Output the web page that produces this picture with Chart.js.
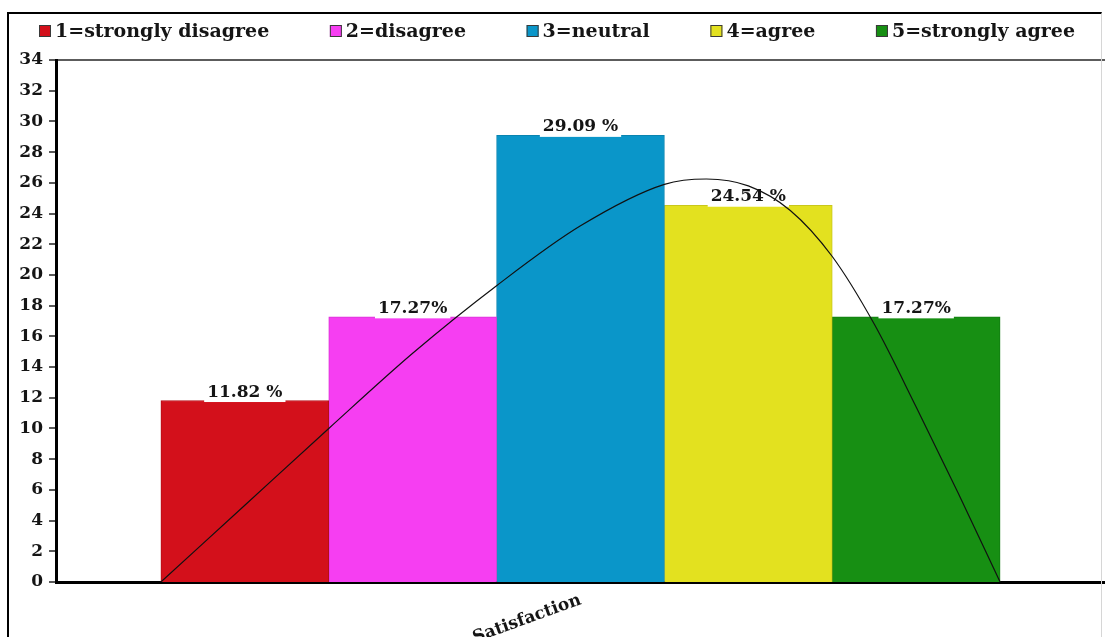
<!DOCTYPE html>
<html>
<head>
<meta charset="utf-8">
<title>Satisfaction</title>
<script src="https://cdn.jsdelivr.net/npm/chart.js@4.4.0/dist/chart.umd.min.js"></script>
<style>
  html, body { margin: 0; padding: 0; background: #fff; }
  #wrap { position: relative; width: 1105px; height: 637px; overflow: hidden; }
  #wrap canvas { position: absolute; left: 0; top: 0; }
  #frame {
    position: absolute; left: 7px; top: 12px; width: 1095px; height: 640px;
    border-left: 2px solid #000; border-top: 2px solid #000; border-right: 1px solid #d6d6d6;
    box-sizing: border-box; pointer-events: none;
  }
</style>
</head>
<body>
<div id="wrap">
  <canvas id="chart"></canvas>
  <div id="frame"></div>
</div>
<script>
// Category on the x axis
const categories = ['Satisfaction'];

// One bar per answer level
const seriesNames  = ['1=strongly disagree', '2=disagree', '3=neutral', '4=agree', '5=strongly agree'];
const seriesValues = [11.82, 17.27, 29.09, 24.54, 17.27];
const seriesColors = ['#d3101b', '#f63ef2', '#0a96c9', '#e3e11f', '#178f13'];
const seriesEdges  = ['#b50d17', '#d934d5', '#0984b0', '#c9c71b', '#137c10'];
const valueSuffix  = [' %', '%', ' %', ' %', '%'];

// Fitted curve, x measured in bar widths from the left edge of the first bar
const curveX = [0, 0.5, 1, 1.5, 2, 2.5, 3, 3.25, 3.5, 3.75, 4, 4.25, 4.5, 4.75, 5];
const curveY = [0, 5.0, 10.0, 14.9, 19.3, 23.2, 25.9, 26.25, 25.8, 24.2, 21.2, 16.8, 11.4, 5.8, 0];

// Value axis
const yMin = 0, yMax = 34, yStep = 2;

const SERIF = '"DejaVu Serif", "Liberation Serif", serif';
const GROUP_PCT = 0.8;                              // share of the category taken by the bar group
const barsSpan = seriesNames.length;                // bar-width units covered by the group
const unitPad = barsSpan * (1 - GROUP_PCT) / (2 * GROUP_PCT);

// Value labels above the bars, drawn just before the curve so it passes over them
const barValueLabels = {
  id: 'barValueLabels',
  beforeDatasetDraw(chart, args) {
    if (chart.data.datasets[args.index].type !== 'line') return;
    const ctx = chart.ctx;
    ctx.save();
    ctx.font = 'bold 17px ' + SERIF;
    ctx.textAlign = 'center';
    ctx.textBaseline = 'alphabetic';
    seriesValues.forEach((v, i) => {
      const el = chart.getDatasetMeta(i).data[0];
      const text = v.toFixed(2) + valueSuffix[i];
      const w = ctx.measureText(text).width;
      ctx.fillStyle = '#fff';
      ctx.fillRect(el.x - w / 2 - 3, el.y - 20, w + 6, 21.5);
      ctx.fillStyle = '#151515';
      ctx.fillText(text, el.x, el.y - 4);
    });
    ctx.restore();
  }
};

// Legend row across the top, spread between two edges
const spreadLegend = {
  id: 'spreadLegend',
  afterDraw(chart, args, opts) {
    const ctx = chart.ctx;
    ctx.save();
    ctx.font = 'bold 19px ' + SERIF;
    ctx.textBaseline = 'alphabetic';
    ctx.textAlign = 'left';
    const widths = seriesNames.map(n => ctx.measureText(n).width);
    const itemsW = widths.reduce((a, b) => a + b, 0) + seriesNames.length * (opts.box + opts.gap);
    const spacing = (opts.right - opts.left - itemsW) / (seriesNames.length - 1);
    let x = opts.left;
    seriesNames.forEach((n, i) => {
      ctx.fillStyle = seriesColors[i];
      ctx.fillRect(x, opts.baseline - opts.box, opts.box, opts.box);
      ctx.strokeStyle = '#3a3a3a';
      ctx.lineWidth = 1;
      ctx.strokeRect(x + 0.5, opts.baseline - opts.box + 0.5, opts.box - 1, opts.box - 1);
      ctx.fillStyle = '#151515';
      ctx.fillText(n, x + opts.box + opts.gap, opts.baseline);
      x += opts.box + opts.gap + widths[i] + spacing;
    });
    ctx.restore();
  }
};

// Bars sit side by side on the hidden unit axis, centred at 0.5, 1.5, ...
const barSets = seriesNames.map((name, i) => ({
  type: 'bar',
  label: name,
  data: [{ x: i + 0.5, y: seriesValues[i] }],
  backgroundColor: seriesColors[i],
  borderColor: seriesEdges[i],
  borderWidth: 1,
  grouped: false,
  barPercentage: 1.0,
  categoryPercentage: 1.0,
  xAxisID: 'u',
  yAxisID: 'y',
  order: 1
}));

const curveSet = {
  type: 'line',
  label: 'curve',
  data: curveX.map((x, i) => ({ x: x, y: curveY[i] })),
  borderColor: '#111',
  borderWidth: 1.2,
  pointRadius: 0,
  fill: false,
  cubicInterpolationMode: 'monotone',
  xAxisID: 'u',
  yAxisID: 'y',
  order: 0
};

new Chart(document.getElementById('chart'), {
  type: 'bar',
  data: { labels: categories, datasets: [...barSets, curveSet] },
  options: {
    responsive: true,
    maintainAspectRatio: false,
    animation: false,
    // plot area runs slightly past the right edge of the canvas
    layout: { padding: { top: 60, left: 0, right: -6, bottom: 0 } },
    plugins: {
      legend: { display: false },
      tooltip: { enabled: false },
      spreadLegend: { left: 39, right: 1075, baseline: 37, box: 12, gap: 4 }
    },
    scales: {
      x: {
        type: 'category',
        offset: true,
        grid: { display: false, drawTicks: false },
        border: { display: true, color: '#000', width: 3 },
        ticks: {
          color: '#151515',
          font: { family: SERIF, size: 17, weight: 'bold' },
          minRotation: 20, maxRotation: 20,
          padding: 8
        },
        afterFit(scale) { scale.height = 55; }
      },
      u: {
        type: 'linear',
        axis: 'x',
        position: 'bottom',
        display: false,
        offset: false,
        min: -unitPad,
        max: barsSpan + unitPad,
        // no ticks here, so bar width follows the spacing of the bar centres
        afterBuildTicks(scale) { scale.ticks = []; }
      },
      y: {
        type: 'linear',
        min: yMin, max: yMax,
        ticks: {
          stepSize: yStep,
          color: '#151515',
          padding: 6,
          font: { family: SERIF, size: 17, weight: 'bold' }
        },
        grid: {
          color: c => (c.tick && c.tick.value === yMax) ? '#5c5c5c' : 'rgba(0,0,0,0)',
          lineWidth: c => (c.tick && c.tick.value === yMax) ? 2 : 0,
          tickColor: '#222',
          tickWidth: 1.5,
          tickLength: 7
        },
        border: { display: true, color: '#000', width: 3 },
        afterFit(scale) { scale.width = 56; }
      }
    }
  },
  plugins: [barValueLabels, spreadLegend]
});
</script>
</body>
</html>
